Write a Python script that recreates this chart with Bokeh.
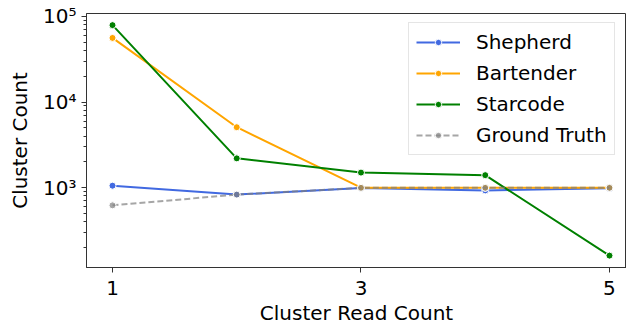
from bokeh.plotting import figure
from bokeh.models import FixedTicker, LogTicker, Legend, LegendItem, Range1d
from bokeh.embed import file_html
from bokeh.resources import INLINE

read_count = [1, 2, 3, 4, 5]
shepherd = [1055, 830, 990, 930, 985]
bartender = [56000, 5080, 1000, 1000, 1000]
starcode = [79000, 2200, 1500, 1400, 161]
ground_truth = [622, 830, 995, 995, 995]

x_ticks = [1, 3, 5]
y_tick_labels = {100: "10²", 1000: "10³", 10000: "10⁴", 100000: "10⁵"}

series = [
    ("Shepherd", shepherd, "#4169E1", None, 1.0),
    ("Bartender", bartender, "#FFA500", None, 1.0),
    ("Starcode", starcode, "#008000", None, 1.0),
    ("Ground Truth", ground_truth, "#808080", "6 3", 0.7),
]

FONT = "DejaVu Sans"

p = figure(width=626, height=327, y_axis_type="log",
           x_range=Range1d(0.7907, 5.137), y_range=Range1d(117, 108000),
           output_backend="svg", toolbar_location=None,
           min_border_left=86, min_border_top=13, min_border_bottom=59, min_border_right=0)

p.xgrid.grid_line_color = None
p.ygrid.grid_line_color = None
p.outline_line_color = "#333333"
p.outline_line_width = 1

items = []
for name, vals, color, dash, alpha in series:
    kw = {}
    if dash:
        kw["line_dash"] = dash
    r1 = p.line(read_count, vals, line_color=color, line_width=2, line_alpha=alpha, **kw)
    r2 = p.scatter(read_count, vals, size=7, fill_color=color, fill_alpha=alpha,
                   line_color="white", line_width=1)
    items.append(LegendItem(label=name, renderers=[r1, r2]))

p.xaxis.ticker = FixedTicker(ticks=x_ticks)
p.yaxis.ticker = LogTicker(num_minor_ticks=10)
p.yaxis.major_label_overrides = y_tick_labels

for ax in (p.xaxis[0], p.yaxis[0]):
    ax.axis_line_color = "#333333"
    ax.major_tick_line_color = "#333333"
    ax.minor_tick_line_color = "#333333"
    ax.major_tick_out = 5
    ax.major_tick_in = 0
    ax.minor_tick_out = 3
    ax.minor_tick_in = 0
    ax.major_label_text_font = FONT
    ax.major_label_text_font_size = "20px"
    ax.major_label_text_color = "black"
    ax.major_label_text_line_height = 1.0
    ax.axis_label_text_font = FONT
    ax.axis_label_text_font_size = "20px"
    ax.axis_label_text_font_style = "normal"
    ax.axis_label_text_color = "black"
    ax.axis_label_text_line_height = 1.0

p.xaxis.major_label_standoff = 8
p.xaxis.axis_label_standoff = 3
p.yaxis.major_label_standoff = 5
p.yaxis.axis_label_standoff = 8

p.xaxis.axis_label = "Cluster Read Count"
p.yaxis.axis_label = "Cluster Count"
p.xaxis.minor_tick_line_color = None

legend = Legend(items=items, location=(322, 112))
legend.label_text_font = FONT
legend.label_text_font_size = "20px"
legend.label_text_color = "black"
legend.glyph_width = 44
legend.glyph_height = 16
legend.label_height = 24
legend.label_standoff = 16
legend.spacing = 7
legend.padding = 7
legend.margin = 0
legend.border_line_color = "#cccccc"
legend.border_line_width = 1
legend.background_fill_color = "white"
legend.background_fill_alpha = 0.8
p.add_layout(legend)

open("out.html", "w").write(file_html(p, INLINE))
